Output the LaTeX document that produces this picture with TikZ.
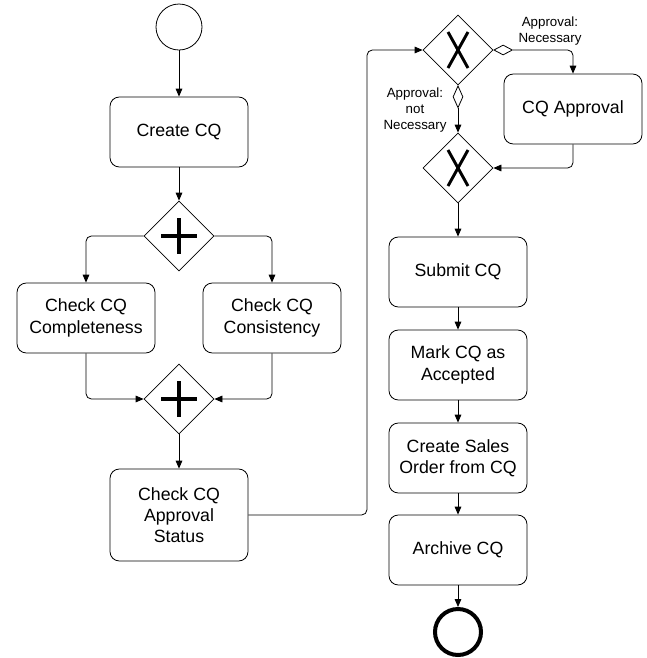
\documentclass[tikz,border=0pt]{standalone}
\usepackage{fontspec}
\setmainfont{Liberation Sans}
\usetikzlibrary{shapes.geometric,arrows.meta}

\begin{document}
\begin{tikzpicture}[x=0.75pt,y=-0.75pt,line width=0.6pt,
    task/.style={draw,rounded corners=7pt,minimum width=103.5pt,minimum height=52.5pt,
        align=center,font=\fontsize{13.3}{16}\selectfont},
    gateway/.style={draw,diamond,minimum width=52.5pt,minimum height=52.5pt,inner sep=0pt},
    cond/.style={draw,diamond,inner sep=0pt,fill=white},
    flow/.style={-{Triangle[length=6pt,width=5pt]},rounded corners=4pt},
    guard/.style={align=center,font=\fontsize{10}{12}\selectfont},
    sign/.style={line width=2.6pt}]
    \useasboundingbox (0,0) rectangle (647,658);

    \node[draw,circle,minimum size=34.5pt,inner sep=0pt] (start) at (179,27) {};
    \node[task] (create) at (179,132) {Create CQ};
    \node[gateway] (fork) at (179,236) {};
    \node[task] (complete) at (86,318) {Check CQ\\Completeness};
    \node[task] (consist) at (272,318) {Check CQ\\Consistency};
    \node[gateway] (join) at (179,399) {};
    \node[task,minimum height=69pt] (status) at (179,515) {Check CQ\\Approval\\Status};

    \node[gateway] (xsplit) at (458,50) {};
    \node[task] (approve) at (573,109) {CQ Approval};
    \node[gateway] (xmerge) at (458,168) {};
    \node[task] (submit) at (458,272) {Submit CQ};
    \node[task] (mark) at (458,365) {Mark CQ as\\Accepted};
    \node[task] (sales) at (458,458) {Create Sales\\Order from CQ};
    \node[task] (archive) at (458,550) {Archive CQ};
    \node[draw,circle,line width=3pt,minimum size=34.5pt,inner sep=0pt] (end) at (458,632) {};

    % gateway markers
    \foreach \g in {fork,join} {
        \draw[sign] (\g.center) ++(-18,0) -- ++(36,0);
        \draw[sign] (\g.center) ++(0,-18) -- ++(0,36);
    }
    \foreach \g in {xsplit,xmerge} {
        \draw[sign,line width=2.2pt] (\g.center) ++(-10,-18) -- ++(20,36);
        \draw[sign,line width=2.2pt] (\g.center) ++(10,-18) -- ++(-20,36);
    }

    \draw[flow] (start) -- (create);
    \draw[flow] (create) -- (fork);
    \draw[flow] (fork.west) -| (complete.north);
    \draw[flow] (fork.east) -| (consist.north);
    \draw[flow] (complete.south) |- (join.west);
    \draw[flow] (consist.south) |- (join.east);
    \draw[flow] (join) -- (status);

    \coordinate (loop) at (367,50);
    \draw[flow] (status.east) -| (loop) -- (xsplit.west);

    \node[cond,minimum width=14pt,minimum height=7.5pt,anchor=west] (needed) at (xsplit.east) {};
    \node[cond,minimum width=7.5pt,minimum height=16.5pt,anchor=north] (skip) at (xsplit.south) {};
    \draw[flow] (needed.east) -| (approve.north);
    \draw[flow] (skip.south) -- (xmerge.north);
    \node[guard] at (550,31) {Approval:\\Necessary};
    \node[guard] at (415,110) {Approval:\\not\\Necessary};
    \draw[flow] (approve.south) |- (xmerge.east);

    \draw[flow] (xmerge) -- (submit);
    \draw[flow] (submit) -- (mark);
    \draw[flow] (mark) -- (sales);
    \draw[flow] (sales) -- (archive);
    \draw[flow] (archive) -- (end);
\end{tikzpicture}
\end{document}
